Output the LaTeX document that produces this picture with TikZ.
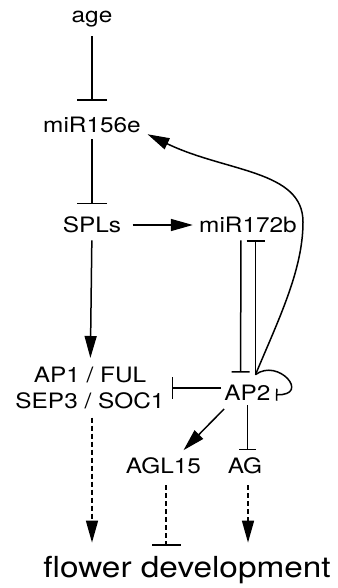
\documentclass[tikz,border=0pt]{standalone}
\usepackage{fontspec}
\usepackage{graphicx}
\setmainfont{TeX Gyre Heros}
\usetikzlibrary{arrows.meta,calc}
\newcommand{\widetxt}[1]{\scalebox{1.15}[1]{#1}}

\begin{document}
\begin{tikzpicture}[x=0.5pt, y=-0.5pt,
    gene/.style={font=\fontsize{10.6}{13}\selectfont, inner sep=0pt,
        text height=7.7pt, text depth=2.3pt, anchor=base},
    act/.style={-{Triangle[length=11pt,width=6pt]}, line width=0.75pt},
    inh/.style={-{Bar[width=#1]}, line width=0.75pt},
    inh/.default=15pt,
    indirect/.style={dash pattern=on 2.5pt off 1.5pt}
]
    \useasboundingbox (0,0) rectangle (337,588);

    \node[gene] (age) at (92,23) {\widetxt{age}};
    \node[gene] (mir156) at (92,133) {\widetxt{miR156e}};
    \node[gene] (spls) at (92,233) {\widetxt{SPLs}};
    \node[gene] (mir172) at (248,233) {\widetxt{miR172b}};
    \node[font=\fontsize{10.6}{13}\selectfont, inner sep=0pt, align=center,
        anchor=north] (ap1) at (90,366.5) {\widetxt{AP1 / FUL}\\\widetxt{SEP3 / SOC1}};
    \node[gene] (ap2) at (247.5,400) {\widetxt{AP2}};
    \node[gene] (agl15) at (163.5,473) {\widetxt{AGL15}};
    \node[gene] (ag) at (245,473) {\widetxt{AG}};
    \node[font=\fontsize{14.5}{17}\selectfont, inner sep=0pt, text height=10.8pt,
        text depth=3pt, anchor=base] (flower) at (187,577) {\widetxt{flower development}};

    \coordinate (hub) at ([xshift=4pt,yshift=4.8pt]ap2.north);
    \coordinate (bend) at (303,222);

    \draw[inh, shorten <=4.2pt, shorten >=8.3pt] (age) -- (mir156);
    \draw[inh, shorten <=0.7pt, shorten >=6.5pt] (mir156) -- (spls);
    \draw[act, shorten <=5.5pt, shorten >=3pt] ([yshift=1.3pt]spls.east) -- ([yshift=1.3pt]mir172.west);
    \draw[act, shorten <=1.2pt, shorten >=4.25pt] (spls) -- (ap1);
    \draw[inh=9pt, shorten <=1.2pt, shorten >=5.8pt] ([xshift=-3.5pt]mir172.south) -- ([xshift=-3.5pt]ap2.north);
    \draw[inh=9pt, shorten >=1.2pt] (hub) -- (hub |- mir172.south);
    \draw[inh=6pt, shorten >=2.5pt] (hub) .. controls +(23,-17) and +(40,1) .. (ap2.east);
    \draw[act, shorten >=3.5pt] (hub) .. controls +(23,-55) and +(0,48) .. (bend)
        .. controls +(0,-52) and +(85,41) .. ([yshift=-1.8pt]mir156.east);
    \draw[inh=11pt, shorten <=1.5pt, shorten >=3.5pt] (ap2.west |- ap1.east) -- (ap1.east);
    \draw[act] ([yshift=-2pt]ap2.south west) -- ([xshift=10pt,yshift=3.5pt]agl15.north);
    \draw[inh=8.5pt, shorten >=3.5pt] (ap2.south) -- (ap2.south |- ag.north);

    % indirect effects
    \draw[act, indirect, shorten <=4.25pt, shorten >=6.2pt] ([xshift=1pt]ap1.south) -- ([xshift=1pt]ap1.south |- flower.north);
    \draw[inh=14.5pt, indirect, shorten <=3.7pt, shorten >=4.7pt] ([xshift=1.25pt]agl15.south) -- ([xshift=1.25pt]agl15.south |- flower.north);
    \draw[act, indirect, shorten <=3.7pt, shorten >=6.2pt] ([xshift=1.5pt]ag.south) -- ([xshift=1.5pt]ag.south |- flower.north);
\end{tikzpicture}
\end{document}
